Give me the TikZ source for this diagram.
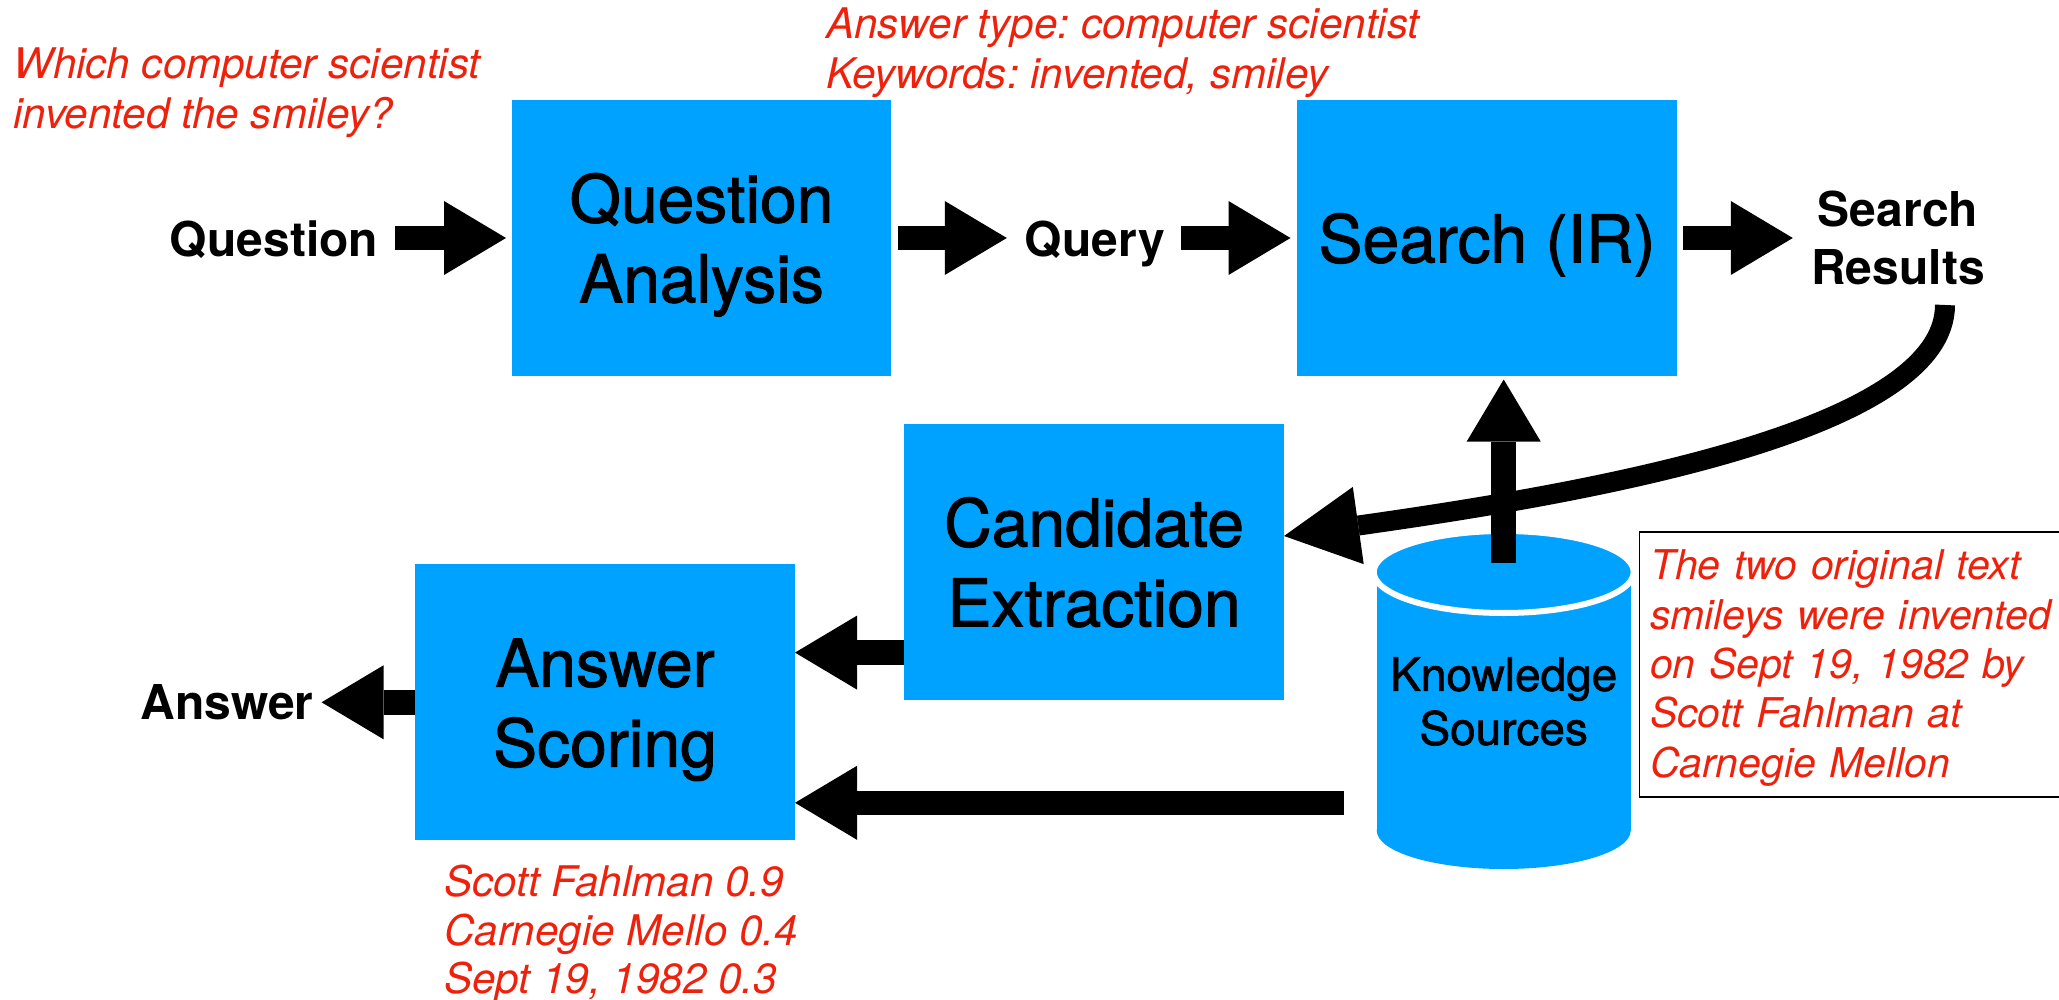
\documentclass[tikz,border=0pt]{standalone}
\usepackage{fontspec}
\setmainfont{TeX Gyre Heros}
\newfontfamily\medfont[FakeBold=1.5]{TeX Gyre Heros}
\usetikzlibrary{arrows.meta,calc}
\definecolor{kblue}{RGB}{0,162,255}
\definecolor{kred}{RGB}{238,34,12}
\newcommand\upstr{\rule{0pt}{63pt}}
\newcommand\dnstr{\rule[-14pt]{0pt}{14pt}}
\newcommand\rstr{\rule{0pt}{31pt}}
\frenchspacing
\pgfdeclarelayer{bg}
\pgfsetlayers{bg,main}
\begin{document}
\begin{tikzpicture}[x=1pt,y=-1pt,
  box/.style={fill=kblue, draw=none, inner sep=0pt, outer sep=0pt,
    minimum width=380pt, minimum height=276pt, align=center,
    font=\medfont\fontsize{66}{80}\selectfont},
  lbl/.style={inner sep=0pt, outer sep=0pt, font=\bfseries\fontsize{48}{58}\selectfont,
    text height=35pt, text depth=0pt},
  redtxt/.style={text=kred, font=\itshape\fontsize{42.2}{50}\selectfont,
    align=left, inner sep=0pt, anchor=north west},
  barrow/.style={line width=24.5pt, -{Triangle[length=62pt,width=74pt,line width=0pt]}},
  carrow/.style={line width=20pt, -{Triangle[length=75pt,width=78pt,line width=0pt]}},
  note/.style={draw=black, line width=1.7pt, inner xsep=10.4pt, inner ysep=0pt,
    outer sep=0pt, text width=410pt, align=left, minimum height=264.4pt,
    anchor=north west, text=kred, font=\itshape\fontsize{41}{49.4}\selectfont}
]
\useasboundingbox (0,0) rectangle (2059,1000);
\begin{pgfonlayer}{bg}
\fill[white] (0,0) rectangle (2059,1000);
\end{pgfonlayer}

% red annotations
\node[redtxt] (qtext) at (13,47.3) {\rstr Which computer scientist\\invented the smiley?};
\node[redtxt] (atype) at (826,7.3) {\rstr Answer type: computer scientist\\Keywords: invented, smiley};
\node[redtxt, font=\itshape\fontsize{42.2}{48.7}\selectfont] (scores) at (444,864.6)
  {\rstr Scott Fahlman 0.9\\Carnegie Mello 0.4\\Sept 19, 1982 0.3};

% boxes
\node[box, minimum width=379pt] (qa) at (701.5,238) {\upstr Question\\Analysis\dnstr};
\node[box] (se) at (1487,238) {\upstr\dnstr Search (IR)};
\node[box] (ce) at (1094,562) {\upstr Candidate\\Extraction\dnstr};
\node[box] (as) at (605,702.3) {\upstr Answer\\Scoring\dnstr};

% labels
\node[lbl] (q) at (274,239.5) {Question};
\node[lbl] (qy) at (1094.75,239.5) {Query};
\node[lbl] (ans) at (227,702) {Answer};
\node[inner sep=0pt, outer sep=0pt, align=center,
  font=\bfseries\fontsize{48}{58}\selectfont] (sr) at (1898,238) {Search\\Results};

% knowledge sources cylinder
\node[inner sep=0pt, outer sep=0pt, minimum width=254pt, minimum height=335pt,
  align=center, font=\medfont\fontsize{46}{54}\selectfont] (ks) at (1503.7,701.5)
  {Knowledge\\Sources};
\coordinate (kt) at ([yshift=-38pt]ks.north);
\coordinate (kb) at ([yshift=38.5pt]ks.south);
\begin{pgfonlayer}{bg}
\fill[kblue] ([xshift=-127pt]kt) rectangle ([xshift=127pt]kb);
\fill[kblue] (kb) ellipse[x radius=127, y radius=38.5];
\filldraw[fill=kblue, draw=white, line width=6pt] (kt) ellipse[x radius=130, y radius=41];
\end{pgfonlayer}

% note box
\node[note] (tb) at (1639.6,532.3)
  {\rule{0pt}{37pt}The two original text\\smileys were invented\\on Sept 19, 1982 by\\Scott Fahlman at\\Carnegie Mellon};

% connectors
\draw[barrow, shorten <=17pt, shorten >=6pt] (q.east |- qa.west) -- (qa.west);
\draw[barrow, shorten <=7pt, shorten >=18pt] (qa.east) -- (qa.east -| qy.west);
\draw[barrow, shorten <=16.5pt, shorten >=6.5pt] (qy.east |- se.west) -- (se.west);
\draw[barrow, shorten <=6pt, shorten >=18.5pt] (se.east) -- (se.east -| sr.west);

\coordinate (cs) at ([shift={(47,20)}]sr.south);
\coordinate (ct) at ([yshift=26pt]ce.east);
\draw[carrow] (cs) .. controls +(0,125) and +(312,-44) .. (ct);

\draw[barrow, shorten >=3.5pt] ([yshift=-29pt]ks.north) -- (se.south -| ks.north);

\coordinate (ceo) at ([yshift=-90.6pt]ce.west);
\draw[barrow] (ceo) -- (ceo -| as.east);
\coordinate (kso) at ([yshift=-101.3pt]ks.west);
\draw[barrow, shorten <=32.5pt] (kso) -- (kso -| as.east);
\draw[barrow, shorten >=8pt] (as.west) -- (as.west -| ans.east);
\end{tikzpicture}
\end{document}
